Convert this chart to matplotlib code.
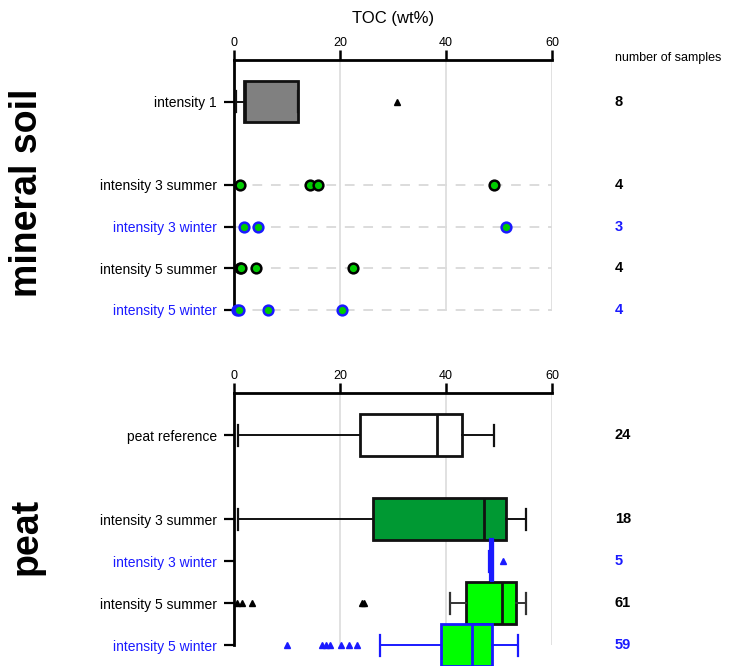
import matplotlib
matplotlib.use("Agg")
import matplotlib.pyplot as plt
from matplotlib.lines import Line2D

plt.rcParams['font.family'] = ['Liberation Sans', 'DejaVu Sans']

# ---------------- data ----------------
mineral_labels = ["intensity 1", "intensity 3 summer", "intensity 3 winter",
                  "intensity 5 summer", "intensity 5 winter"]
mineral_pos = [0, 2, 3, 4, 5]
mineral_n = ["8", "4", "3", "4", "4"]
mineral_winter = [False, False, True, False, True]

# intensity 1 box statistics
int1_stats = dict(whislo=0.3, q1=1.8, med=2.0, q3=12.1, whishi=12.1, fliers=[30.7])

# single samples (mineral soil)
i3s_points = [1.1, 14.3, 15.9, 49.1]
i3w_points = [1.9, 4.5, 51.3]
i5s_points = [1.2, 1.4, 4.2, 22.5]
i5w_points = [0.5, 1.0, 6.4, 20.4]

peat_labels = ["peat reference", "intensity 3 summer", "intensity 3 winter",
               "intensity 5 summer", "intensity 5 winter"]
peat_pos = [0, 2, 3, 4, 5]
peat_n = ["24", "18", "5", "61", "59"]
peat_winter = [False, False, True, False, True]

peat_ref_stats = dict(whislo=0.8, q1=23.8, med=38.3, q3=43.0, whishi=49.1, fliers=[])
peat_i3s_stats = dict(whislo=0.7, q1=26.3, med=47.1, q3=51.3, whishi=55.1, fliers=[])
peat_i3w_stats = dict(whislo=48.2, q1=48.5, med=48.6, q3=48.7, whishi=48.7, fliers=[50.8])
peat_i5s_stats = dict(whislo=40.8, q1=43.8, med=50.6, q3=53.2, whishi=55.1,
                      fliers=[0.5, 1.5, 3.4, 24.2, 24.5])
peat_i5w_stats = dict(whislo=27.5, q1=39.1, med=44.9, q3=48.7, whishi=53.6,
                      fliers=[10.0, 16.6, 17.3, 18.1, 20.2, 21.7, 23.3])

xticks = [0, 20, 40, 60]

BLUE = '#1a1aff'
GRID = '#dcdcdc'

fig = plt.figure(figsize=(7.34, 6.66), dpi=100)
W, H = 734, 666

ax1 = fig.add_axes([234 / W, (H - 330.8) / H, 318 / W, 270.8 / H])
ax2 = fig.add_axes([234 / W, 0.0, 318 / W, 273 / H])


def style_axes(ax, labels, pos, winter, ns):
    ax.set_xlim(0, 60)
    ax.set_ylim(5.5, -1)
    for s in ['right', 'bottom']:
        ax.spines[s].set_visible(False)
    ax.spines['top'].set_linewidth(2)
    ax.spines['left'].set_linewidth(2)
    ax.spines['left'].set_bounds(-1, 5)
    ax.xaxis.tick_top()
    ax.set_xticks(xticks)
    ax.set_xticklabels([str(t) for t in xticks])
    ax.tick_params(axis='x', direction='out', length=7, width=1.8, labelsize=9, pad=1)
    ax.set_yticks(pos)
    ax.set_yticklabels(labels)
    ax.tick_params(axis='y', direction='out', length=7.5, width=1.6, labelsize=10, pad=5)
    for tk, lab, w in zip(ax.yaxis.get_major_ticks(), ax.get_yticklabels(), winter):
        c = BLUE if w else 'black'
        tk.tick1line.set_color(c)
        lab.set_color(c)
    ax.vlines([20, 40, 60], -1, 5, color=GRID, lw=1.2, zorder=0)
    for p, n, w in zip(pos, ns, winter):
        ax.text(1.198, p, n, transform=ax.get_yaxis_transform(), ha='left', va='center',
                fontsize=10.5, fontweight='bold', color=BLUE if w else 'black')


def draw_box(ax, stats, position, face, edge, whisk_color, flier_color, lw=2.0):
    ax.bxp([stats], positions=[position], vert=False, widths=1.0, patch_artist=True,
           showfliers=True,
           boxprops=dict(facecolor=face, edgecolor=edge, linewidth=lw),
           medianprops=dict(color=edge, linewidth=lw),
           whiskerprops=dict(color=whisk_color, linewidth=1.4),
           capprops=dict(color=whisk_color, linewidth=1.6),
           flierprops=dict(marker='^', markerfacecolor=flier_color, markeredgecolor=flier_color,
                           markersize=5, linestyle='none'),
           manage_ticks=False, zorder=3)


# ---------------- mineral soil ----------------
style_axes(ax1, mineral_labels, mineral_pos, mineral_winter, mineral_n)
draw_box(ax1, int1_stats, 0, '#808080', '#111111', '#111111', 'black')

dot_rows = [(2, i3s_points, 'black'), (3, i3w_points, BLUE),
            (4, i5s_points, 'black'), (5, i5w_points, BLUE)]
for y, pts, ec in dot_rows:
    ax1.hlines(y, 0, 60, colors=GRID, linestyles=(0, (5, 4.5)), lw=1.4, zorder=1)
    ax1.plot(pts, [y] * len(pts), 'o', markersize=7, markerfacecolor='#00cc00',
             markeredgecolor=ec, markeredgewidth=1.8, linestyle='none', zorder=4,
             clip_on=False)

# ---------------- peat ----------------
style_axes(ax2, peat_labels, peat_pos, peat_winter, peat_n)
draw_box(ax2, peat_ref_stats, 0, 'white', '#111111', '#111111', 'black')
draw_box(ax2, peat_i3s_stats, 2, '#009933', '#111111', '#111111', 'black')
draw_box(ax2, peat_i3w_stats, 3, BLUE, BLUE, BLUE, BLUE, lw=3)
draw_box(ax2, peat_i5s_stats, 4, '#00ff00', '#111111', '#333333', 'black')
draw_box(ax2, peat_i5w_stats, 5, '#00ff00', BLUE, BLUE, BLUE)

for ax in (ax1, ax2):
    for art in ax.get_children():
        if isinstance(art, Line2D) or hasattr(art, 'set_clip_on'):
            pass
    for art in ax.lines + ax.patches:
        art.set_clip_on(False)

# ---------------- texts ----------------
fig.text(393 / W, (H - 18) / H, "TOC (wt%)", ha='center', va='center', fontsize=12)
fig.text(615 / W, (H - 58) / H, "number of samples", ha='left', va='center', fontsize=9)
fig.text(37 / W, (H - 193) / H, "mineral soil", rotation=90, rotation_mode='anchor',
         ha='center', va='baseline', fontsize=27, fontweight='bold')
fig.text(37 / W, (H - 536) / H, "peat", rotation=90, rotation_mode='anchor',
         ha='center', va='baseline', fontsize=27, fontweight='bold')

fig.savefig("out.png", dpi=100)
